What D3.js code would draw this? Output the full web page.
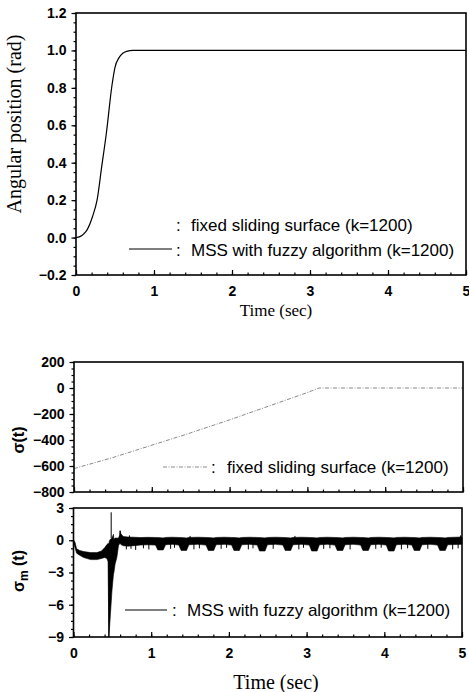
<!DOCTYPE html>
<html>
<head>
<meta charset="utf-8">
<script src="https://cdn.jsdelivr.net/npm/d3@7"></script>
<style>
  body { margin: 0; background: #fff; }
  svg { display: block; }
  .tick text { font-family: "Liberation Sans", Arial, sans-serif; font-weight: bold; font-size: 14px; fill: #000; }
  .domain { display: none; }
  .legend { font-family: "Liberation Sans", Arial, sans-serif; font-size: 17px; }
  .title { font-family: "Liberation Serif", "Times New Roman", serif; }
</style>
</head>
<body>
<div id="main"></div>
<script>

// ---- data ----
var timeTicks = [0, 1, 2, 3, 4, 5]

// top panel: angular position (rad)
var angleTime  = [0, 0.05, 0.10, 0.14, 0.21, 0.27, 0.33, 0.39, 0.46, 0.50, 0.55, 0.60, 0.65, 0.73, 1.0, 5.0]
var angleValue = [0, 0.005, 0.02, 0.04, 0.11, 0.20, 0.38, 0.56, 0.81, 0.91, 0.96, 0.985, 0.995, 1.0, 1.0, 1.0]
var angleTicks = [-0.2, 0.0, 0.2, 0.4, 0.6, 0.8, 1.0, 1.2]

// middle panel: sigma(t), fixed sliding surface
var sigmaTime  = [0, 0.5, 1.0, 1.5, 2.0, 2.5, 3.0, 3.15, 5.0]
var sigmaValue = [-620, -535, -440, -345, -245, -140, -35, 0, 0]
var sigmaTicks = [-800, -600, -400, -200, 0, 200]

// bottom panel: sigma_m(t) as [t, low, high] envelope of the chattering trace
var sigmaMBand = [
  [0.00, -0.25, 0.05], [0.02, -0.70, -0.20], [0.04, -1.20, -0.80], [0.08, -1.40, -0.95],
  [0.13, -1.60, -1.05], [0.22, -1.80, -1.15], [0.30, -1.80, -1.15], [0.36, -1.70, -1.00],
  [0.40, -1.60, -0.70], [0.43, -1.70, -0.40], [0.445, -2.00, -0.30], [0.455, -9.00, -0.30],
  [0.465, -8.00, 0.00], [0.475, -6.90, 0.10], [0.495, -4.70, 0.20], [0.514, -3.20, 0.55],
  [0.52, -3.00, 0.10], [0.536, -2.20, 0.20], [0.558, -1.60, 0.20], [0.579, -0.50, 0.20],
  [0.595, -0.30, 0.50], [0.60, -0.30, 0.87], [0.61, -0.40, 0.60], [0.64, -0.50, 0.35],
  [0.70, -0.55, 0.30], [0.78, -0.50, 0.28], [0.86, -0.45, 0.25], [0.95, -0.42, 0.27],
  [1.055, -0.45, 0.26], [1.085, -0.90, 0.25], [1.155, -0.90, 0.22], [1.185, -0.42, 0.26],
  [1.27, -0.38, 0.28],
  [1.355, -0.45, 0.26], [1.385, -0.95, 0.25], [1.455, -0.95, 0.22], [1.485, -0.42, 0.26],
  [1.60, -0.38, 0.28],
  [1.705, -0.45, 0.26], [1.735, -0.95, 0.25], [1.805, -0.95, 0.22], [1.835, -0.42, 0.26],
  [1.94, -0.38, 0.28],
  [2.035, -0.45, 0.26], [2.065, -0.95, 0.25], [2.135, -0.95, 0.22], [2.165, -0.42, 0.26],
  [2.27, -0.38, 0.28],
  [2.365, -0.45, 0.26], [2.395, -1.00, 0.25], [2.465, -1.00, 0.22], [2.495, -0.42, 0.26],
  [2.60, -0.38, 0.28],
  [2.695, -0.45, 0.26], [2.725, -0.95, 0.25], [2.795, -0.95, 0.22], [2.825, -0.42, 0.26],
  [2.93, -0.38, 0.28],
  [3.035, -0.45, 0.26], [3.065, -1.00, 0.25], [3.135, -1.00, 0.22], [3.165, -0.42, 0.26],
  [3.27, -0.38, 0.28],
  [3.365, -0.45, 0.26], [3.395, -0.95, 0.25], [3.465, -0.95, 0.22], [3.495, -0.42, 0.26],
  [3.60, -0.38, 0.28],
  [3.695, -0.45, 0.26], [3.725, -0.95, 0.25], [3.795, -0.95, 0.22], [3.825, -0.42, 0.26],
  [3.93, -0.38, 0.28],
  [4.025, -0.45, 0.26], [4.055, -1.00, 0.25], [4.125, -1.00, 0.22], [4.155, -0.42, 0.26],
  [4.26, -0.38, 0.28],
  [4.355, -0.45, 0.26], [4.385, -0.95, 0.25], [4.455, -0.95, 0.22], [4.485, -0.42, 0.26],
  [4.59, -0.38, 0.28],
  [4.685, -0.45, 0.26], [4.715, -0.95, 0.25], [4.785, -0.95, 0.22], [4.815, -0.42, 0.26],
  [5.00, -0.38, 0.30]
]
// thin single spikes of the trace: [t, from, to]
var sigmaMSpikes = [
  [0.455, -1.5, -9.0], [0.485, 0.2, 2.6], [0.60, 0.2, 0.9],
  [0.68, -0.3, -0.85], [0.74, -0.3, -0.80], [0.80, -0.3, -0.90], [0.90, -0.3, -0.75],
  [0.97, -0.3, -0.85], [1.25, -0.3, -0.80], [1.30, -0.3, -0.70], [1.55, -0.3, -0.85],
  [1.62, -0.3, -0.75], [1.90, -0.3, -0.80], [1.97, -0.3, -0.70], [2.25, -0.3, -0.85],
  [2.31, -0.3, -0.75], [2.57, -0.3, -0.80], [2.90, -0.3, -0.85], [2.96, -0.3, -0.70],
  [3.22, -0.3, -0.80], [3.30, -0.3, -0.75], [3.56, -0.3, -0.85], [3.89, -0.3, -0.80],
  [3.96, -0.3, -0.70], [4.22, -0.3, -0.85], [4.30, -0.3, -0.75], [4.56, -0.3, -0.80],
  [4.88, -0.3, -0.85], [4.95, -0.3, -0.75], [0.72, 0.2, 0.45], [1.50, 0.2, 0.40],
  [2.85, 0.2, 0.40], [4.98, 0.2, 0.45]
]
var sigmaMTicks = [-9, -6, -3, 0, 3]

var W = 469, H = 692

var svg = d3.select("#main")
	.append("svg")
	.attr("width", W)
	.attr("height", H)

// panel helper: draws the frame, y axis and x ticks
function panel(x, y, yTicks, yMinorStep, yFormat, showXLabels) {
	var g = svg.append("g")
	var x0 = x.range()[0], x1 = x.range()[1]
	var y0 = y.range()[0], y1 = y.range()[1]

	// minor ticks
	var ydom = y.domain()
	g.append("g")
		.attr("transform", "translate(" + x0 + ",0)")
		.call(d3.axisLeft(y).tickValues(d3.range(ydom[0], ydom[1] + 1e-9, yMinorStep)).tickSize(2.5).tickFormat(""))
	g.append("g")
		.attr("transform", "translate(0," + y0 + ")")
		.call(d3.axisBottom(x).tickValues(d3.range(0, 5.0001, 0.2)).tickSize(-2.5).tickFormat(""))

	// major ticks
	g.append("g")
		.attr("transform", "translate(" + x0 + ",0)")
		.call(d3.axisLeft(y).tickValues(yTicks).tickSize(4.5).tickPadding(5).tickFormat(yFormat))
	g.append("g")
		.attr("transform", "translate(0," + y0 + ")")
		.call(d3.axisBottom(x).tickValues(timeTicks).tickSize(-5).tickPadding(11)
			.tickFormat(showXLabels ? d3.format("d") : ""))

	g.selectAll(".tick line").attr("stroke", "#000").attr("stroke-width", 1.2)

	// frame
	g.append("rect")
		.attr("x", x0).attr("y", y1)
		.attr("width", x1 - x0).attr("height", y0 - y1)
		.attr("fill", "none").attr("stroke", "#000").attr("stroke-width", 1.6)
	return g
}

// ---------- top panel ----------
var xTop = d3.scaleLinear().domain([0, 5]).range([76, 466])
var yTop = d3.scaleLinear().domain([-0.2, 1.2]).range([275, 13])

var angleData = angleTime.map(function(t, i) { return [t, angleValue[i]] })

svg.append("path")
	.datum(angleData)
	.attr("fill", "none")
	.attr("stroke", "#000")
	.attr("stroke-width", 1.2)
	.attr("d", d3.line().x(function(d) { return xTop(d[0]) }).y(function(d) { return yTop(d[1]) }).curve(d3.curveMonotoneX))

panel(xTop, yTop, angleTicks, 0.05, d3.format(".1f"), true)

svg.append("text")
	.attr("class", "title")
	.attr("transform", "translate(21,124) rotate(-90)")
	.attr("text-anchor", "middle")
	.attr("font-size", 20)
	.text("Angular position (rad)")

svg.append("text")
	.attr("class", "title")
	.attr("x", 276).attr("y", 316)
	.attr("text-anchor", "middle")
	.attr("font-size", 17)
	.text("Time (sec)")

var legTop = svg.append("g").attr("class", "legend")
legTop.append("text").attr("x", 176).attr("y", 231).text(":")
legTop.append("text").attr("x", 191).attr("y", 231).text("fixed sliding surface (k=1200)")
legTop.append("line").attr("x1", 129).attr("x2", 172).attr("y1", 249).attr("y2", 249)
	.attr("stroke", "#000").attr("stroke-width", 1.2)
legTop.append("text").attr("x", 176).attr("y", 256).text(":")
legTop.append("text").attr("x", 191).attr("y", 256).text("MSS with fuzzy algorithm (k=1200)")

// ---------- middle panel ----------
var xMid = d3.scaleLinear().domain([0, 5]).range([74, 463])
var yMid = d3.scaleLinear().domain([-800, 200]).range([492, 362])

var sigmaData = sigmaTime.map(function(t, i) { return [t, sigmaValue[i]] })

svg.append("path")
	.datum(sigmaData)
	.attr("fill", "none")
	.attr("stroke", "#888")
	.attr("stroke-width", 1)
	.attr("stroke-dasharray", "4,1.5,1,1.5")
	.attr("d", d3.line().x(function(d) { return xMid(d[0]) }).y(function(d) { return yMid(d[1]) }))

panel(xMid, yMid, sigmaTicks, 50, d3.format("d"), false)

svg.append("text")
	.attr("transform", "translate(24,440) rotate(-90)")
	.attr("text-anchor", "middle")
	.attr("font-family", "Liberation Sans, Arial, sans-serif")
	.attr("font-weight", "bold")
	.attr("font-size", 16)
	.text("σ(t)")

var legMid = svg.append("g").attr("class", "legend")
legMid.append("line").attr("x1", 163).attr("x2", 207).attr("y1", 467).attr("y2", 467)
	.attr("stroke", "#888").attr("stroke-width", 1).attr("stroke-dasharray", "4,1.5,1,1.5")
legMid.append("text").attr("x", 211).attr("y", 473).text(":")
legMid.append("text").attr("x", 227).attr("y", 473).text("fixed sliding surface (k=1200)")

// ---------- bottom panel ----------
var xBot = d3.scaleLinear().domain([0, 5]).range([73.5, 462])
var yBot = d3.scaleLinear().domain([-9, 3]).range([637, 508])

svg.append("path")
	.datum(sigmaMBand)
	.attr("fill", "#000")
	.attr("stroke", "#000")
	.attr("stroke-width", 0.6)
	.attr("d", d3.area()
		.x(function(d) { return xBot(d[0]) })
		.y0(function(d) { return yBot(d[1]) })
		.y1(function(d) { return yBot(d[2]) }))

svg.append("g")
	.selectAll("line")
	.data(sigmaMSpikes)
	.enter()
	.append("line")
	.attr("x1", function(d) { return xBot(d[0]) })
	.attr("x2", function(d) { return xBot(d[0]) })
	.attr("y1", function(d) { return yBot(d[1]) })
	.attr("y2", function(d) { return yBot(d[2]) })
	.attr("stroke", "#000")
	.attr("stroke-width", 1)

panel(xBot, yBot, sigmaMTicks, 0.75, d3.format("d"), true)

var sm = svg.append("text")
	.attr("transform", "translate(24,571) rotate(-90)")
	.attr("text-anchor", "middle")
	.attr("font-family", "Liberation Sans, Arial, sans-serif")
	.attr("font-weight", "bold")
	.attr("font-size", 16)
sm.append("tspan").text("σ")
sm.append("tspan").attr("font-size", 12).attr("dy", 4).text("m")
sm.append("tspan").attr("dy", -4).text(" (t)")

svg.append("text")
	.attr("class", "title")
	.attr("x", 276).attr("y", 689)
	.attr("text-anchor", "middle")
	.attr("font-size", 20)
	.text("Time (sec)")

var legBot = svg.append("g").attr("class", "legend")
legBot.append("line").attr("x1", 125).attr("x2", 167).attr("y1", 610).attr("y2", 610)
	.attr("stroke", "#000").attr("stroke-width", 1.2)
legBot.append("text").attr("x", 172).attr("y", 616).text(":")
legBot.append("text").attr("x", 187).attr("y", 616).text("MSS with fuzzy algorithm (k=1200)")

</script>
</body>
</html>
